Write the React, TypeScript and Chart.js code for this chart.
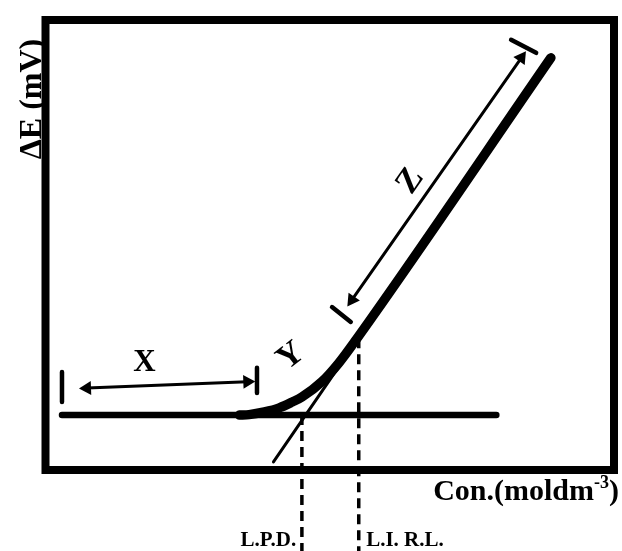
import React, { useEffect, useRef } from "react";
import { Chart, registerables } from "chart.js";

Chart.register(...registerables);

// Schematic response curve (arbitrary units: concentration on x, ΔE on y)
const baselineX = [2.9, 79.3];
const baselineY = [12.2, 12.2];

const responseX = [34.1, 35.8, 38.5, 41.1, 43.4, 45.1, 48.6, 51.6, 54.6, 88.9];
const responseY = [12.2, 12.3, 12.9, 13.8, 15.1, 16.2, 19.6, 23.8, 28.9, 91.6];

const tangentX = [40.1, 88.9];
const tangentY = [1.8, 91.6];

const arrowXX = [7.3, 35.5];
const arrowXY = [18.2, 19.6];
const arrowZX = [53.9, 83.7];
const arrowZY = [37.8, 91.6];

const tickSegments = [
  [[2.9, 21.8], [2.9, 15.1]],
  [[37.2, 22.7], [37.2, 17.1]],
  [[50.4, 36.2], [53.7, 32.9]],
  [[81.9, 95.6], [86.3, 92.7]],
];

const lpdX = 45.1;
const lirlX = 55.1;
const lpdRange = [12.2, -18];
const lirlRange = [29.3, -18];

const yTitle = "ΔE (mV)";
const xTitleMain = "Con.(moldm";
const xTitleSup = "-3";
const xTitleEnd = ")";

const annotations = [
  { text: "X", x: 17.4, y: 23.8, angle: 0, size: 31, align: "center" },
  { text: "Y", x: 43.2, y: 25.2, angle: -38, size: 34, align: "center" },
  { text: "Z", x: 64.2, y: 64.2, angle: -55, size: 34, align: "center" },
  { text: "L.P.D.", x: 44.1, y: -16.8, angle: 0, size: 21, align: "right", baseline: "alphabetic" },
  { text: "L.I. R.L.", x: 56.4, y: -16.8, angle: 0, size: 21, align: "left", baseline: "alphabetic" },
];

const SERIF = '"Liberation Serif", "Times New Roman", serif';

const pts = (xs: number[], ys: number[]) => xs.map((x, i) => ({ x, y: ys[i] }));

export default function App() {
  const ref = useRef<HTMLCanvasElement | null>(null);

  useEffect(() => {
    if (!ref.current) return;

    const framePlugin = {
      id: "frameAndText",
      afterDatasetsDraw(chart: any) {
        const { ctx, chartArea } = chart;
        const xs = chart.scales.x;
        const ys = chart.scales.y;
        ctx.save();
        ctx.strokeStyle = "#000";
        ctx.lineWidth = 8;
        ctx.lineJoin = "miter";
        ctx.strokeRect(
          chartArea.left,
          chartArea.top,
          chartArea.right - chartArea.left,
          chartArea.bottom - chartArea.top
        );
        ctx.fillStyle = "#000";

        for (const a of annotations) {
          const px = xs.getPixelForValue(a.x);
          const py = ys.getPixelForValue(a.y);
          ctx.save();
          ctx.translate(px, py);
          ctx.rotate((a.angle * Math.PI) / 180);
          ctx.font = `bold ${a.size}px ${SERIF}`;
          ctx.textAlign = a.align as CanvasTextAlign;
          ctx.textBaseline = (a.baseline || "middle") as CanvasTextBaseline;
          ctx.fillText(a.text, 0, 0);
          ctx.restore();
        }

        // y-axis title
        ctx.save();
        ctx.translate(chartArea.left - 5, chartArea.top + 79);
        ctx.rotate(-Math.PI / 2);
        ctx.font = `bold 32px ${SERIF}`;
        ctx.textAlign = "center";
        ctx.textBaseline = "alphabetic";
        ctx.fillText(yTitle, 0, 0);
        ctx.restore();

        // x-axis title with superscript
        ctx.save();
        ctx.textBaseline = "alphabetic";
        ctx.font = `bold 30px ${SERIF}`;
        const wMain = ctx.measureText(xTitleMain).width;
        const wEnd = ctx.measureText(xTitleEnd).width;
        ctx.font = `bold 18px ${SERIF}`;
        const wSup = ctx.measureText(xTitleSup).width;
        const right = chartArea.right + 5;
        const base = chartArea.bottom + 30;
        const x0 = right - wMain - wSup - wEnd;
        ctx.font = `bold 30px ${SERIF}`;
        ctx.textAlign = "left";
        ctx.fillText(xTitleMain, x0, base);
        ctx.font = `bold 18px ${SERIF}`;
        ctx.fillText(xTitleSup, x0 + wMain, base - 12);
        ctx.font = `bold 30px ${SERIF}`;
        ctx.fillText(xTitleEnd, x0 + wMain + wSup, base);
        ctx.restore();

        ctx.restore();
      },
    };

    const lineDs = (data: any[], width: number, extra: any = {}) => ({
      data,
      showLine: true,
      borderColor: "#000",
      backgroundColor: "#000",
      borderWidth: width,
      pointRadius: 0,
      borderCapStyle: "round",
      clip: false,
      ...extra,
    });

    const chart = new Chart(ref.current, {
      type: "scatter",
      data: {
        datasets: [
          lineDs(pts(baselineX, baselineY), 6.5),
          lineDs(pts(tangentX, tangentY), 3),
          lineDs(pts(responseX, responseY), 9.5, { tension: 0.35, cubicInterpolationMode: "monotone" }),
          lineDs(pts(arrowXX, arrowXY), 3, {
            pointRadius: [8, 8],
            pointStyle: "triangle",
            pointRotation: [267.9, 87.9],
            pointBorderWidth: 0,
          }),
          lineDs(pts(arrowZX, arrowZY), 3, {
            pointRadius: [8, 8],
            pointStyle: "triangle",
            pointRotation: [215.1, 35.1],
            pointBorderWidth: 0,
          }),
          ...tickSegments.map((s) =>
            lineDs(s.map(([x, y]) => ({ x, y })), 4.5)
          ),
          lineDs([{ x: lpdX, y: lpdRange[0] }, { x: lpdX, y: lpdRange[1] }], 3.5, {
            borderDash: [10, 6],
            borderCapStyle: "butt",
          }),
          lineDs([{ x: lirlX, y: lirlRange[0] }, { x: lirlX, y: lirlRange[1] }], 3.5, {
            borderDash: [10, 6],
            borderCapStyle: "butt",
          }),
        ],
      },
      options: {
        animation: false,
        responsive: false,
        events: [],
        layout: { padding: { left: 45.5, right: 6, top: 20, bottom: 81 } },
        plugins: { legend: { display: false }, tooltip: { enabled: false } },
        scales: {
          x: { type: "linear", min: 0, max: 100, display: false },
          y: { type: "linear", min: 0, max: 100, display: false },
        },
      },
      plugins: [framePlugin],
    } as any);

    return () => chart.destroy();
  }, []);

  return (
    <div style={{ position: "fixed", left: 0, top: 0, width: 622, height: 551, background: "#fff" }}>
      <canvas ref={ref} width={622} height={551} style={{ width: 622, height: 551 }} />
    </div>
  );
}
